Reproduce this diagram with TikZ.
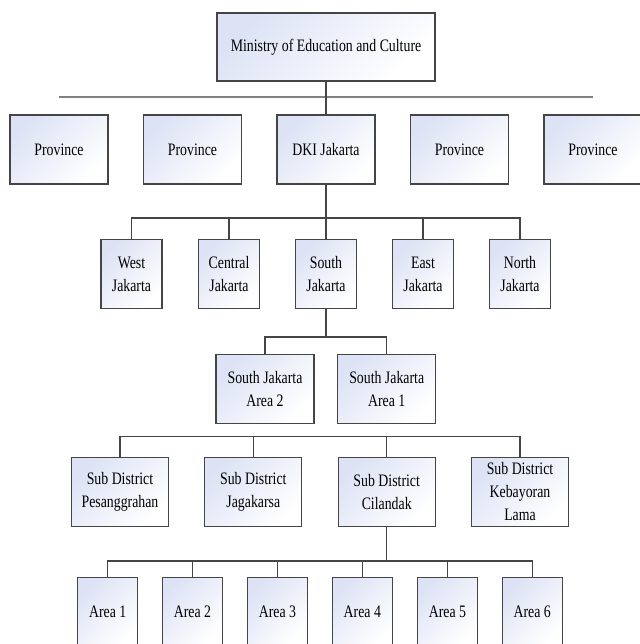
\documentclass[tikz,border=0pt]{standalone}
\usepackage{fontspec}
\setmainfont[FakeStretch=0.79]{Liberation Serif}
\usetikzlibrary{positioning, calc}
\definecolor{boxtint}{HTML}{DDE3F5}
\definecolor{linegray}{HTML}{454545}

\begin{document}
\begin{tikzpicture}[x=1pt, y=-1pt,
  unit/.style={draw=linegray, line width=1.3pt, top color=boxtint, bottom color=white,
    shading angle=45, minimum height=69pt, inner sep=0pt, align=center,
    font=\fontsize{17.5}{23}\selectfont},
  wide/.style={unit, minimum width=98pt},
  narrow/.style={unit, minimum width=61pt},
  link/.style={draw=linegray, line width=1.3pt}]
  \useasboundingbox (0,0) rectangle (639,644);

  % ministry and provinces
  \node[unit, minimum width=218pt, minimum height=68pt] (ministry) at (326,47) {Ministry of Education and Culture};
  \node[wide] (prov1) at (59,149.5) {Province};
  \node[wide] (prov2) at (192.5,149.5) {Province};
  \node[wide] (dki) at (326,149.5) {DKI Jakarta};
  \node[wide] (prov3) at (459.5,149.5) {Province};
  \node[wide] (prov4) at (593,149.5) {Province};

  \coordinate (provbusL) at (59,97);
  \coordinate (provbusR) at (593,97);
  \draw[draw=gray, line width=2pt] (provbusL) -- (provbusR);
  \draw[link] (ministry) -- (dki);

  % cities
  \node[narrow] (west) at (131.5,274) {West\\Jakarta};
  \node[narrow] (central) at (229,274) {Central\\Jakarta};
  \node[narrow] (south) at (326,274) {South\\Jakarta};
  \node[narrow] (east) at (423,274) {East\\Jakarta};
  \node[narrow] (north) at (520,274) {North\\Jakarta};

  \coordinate (citybus) at (326,218);
  \draw[link] (dki) -- (south);
  \draw[link] (west.north) |- (citybus) -| (north.north);
  \draw[link] (central.north) -- (central.north |- citybus);
  \draw[link] (east.north) -- (east.north |- citybus);

  % south jakarta areas
  \node[wide] (sjarea2) at (265,389) {South Jakarta\\Area 2};
  \node[wide] (sjarea1) at (386.7,389) {South Jakarta\\Area 1};

  \coordinate (sjbus) at (326,337);
  \draw[link] (south) -- (sjbus);
  \draw[link] (sjarea2.north) |- (sjbus) -| (sjarea1.north);

  % sub districts
  \node[unit, minimum width=97pt] (pesanggrahan) at (120,492) {Sub District\\Pesanggrahan};
  \node[unit, minimum width=97pt] (jagakarsa) at (253.3,492) {Sub District\\Jagakarsa};
  \node[unit, minimum width=97pt] (cilandak) at (386.7,492) {Sub District\\Cilandak};
  \node[unit, minimum width=97pt] (kebayoran) at (520,492) {Sub District\\Kebayoran\\Lama};

  \coordinate (subbus) at (386.7,436.7);
  \draw[link] (pesanggrahan.north) |- (subbus) -| (kebayoran.north);
  \draw[link] (jagakarsa.north) -- (jagakarsa.north |- subbus);
  \draw[link] (cilandak.north) -- (subbus);

  % areas of cilandak
  \foreach \n/\x in {1/107.7, 2/192.5, 3/277.4, 4/362.3, 5/447.4, 6/532.2}
    \node[narrow, minimum width=60pt] (area\n) at (\x,612) {Area \n};

  \coordinate (areabus) at (386.7,561);
  \draw[link] (cilandak) -- (areabus);
  \draw[link] (area1.north) |- (areabus) -| (area6.north);
  \foreach \n in {2,3,4,5}
    \draw[link] (area\n.north) -- (area\n.north |- areabus);
\end{tikzpicture}
\end{document}
